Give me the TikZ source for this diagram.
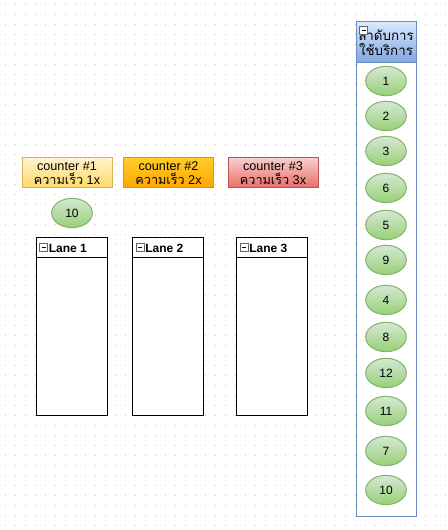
\documentclass[tikz,border=0pt]{standalone}
\usepackage{fontspec}
\setmainfont{Liberation Sans}
\newfontfamily\thaifont[Script=Thai]{Loma}
\usepackage{xcolor}
\usetikzlibrary{positioning,calc,shapes.geometric}

\definecolor{gridgray}{HTML}{C8C8C8}
\definecolor{itemline}{HTML}{82B366}
\definecolor{itemtop}{HTML}{D5E8D4}
\definecolor{itembot}{HTML}{97D077}
\definecolor{yelline}{HTML}{D6B656}
\definecolor{yeltop}{HTML}{FFF2CC}
\definecolor{yelbot}{HTML}{FFD966}
\definecolor{orgline}{HTML}{D79B00}
\definecolor{orgtop}{HTML}{FFCD28}
\definecolor{orgbot}{HTML}{FFA500}
\definecolor{redline}{HTML}{B85450}
\definecolor{redtop}{HTML}{F8CECC}
\definecolor{redbot}{HTML}{EA6B66}
\definecolor{bluline}{HTML}{6C8EBF}
\definecolor{blutop}{HTML}{DAE8FC}
\definecolor{blubot}{HTML}{7EA6E0}

\tikzset{
  counterbox/.style={rectangle, line width=0.75pt, minimum width=67.5pt,
    minimum height=22.5pt, inner sep=1pt, align=center,
    font=\fontsize{9.5}{10.5}\selectfont},
  queueitem/.style={ellipse, draw=itemline, line width=0.75pt,
    top color=itemtop, bottom color=itembot, minimum width=30.5pt,
    minimum height=22pt, inner sep=0pt, font=\fontsize{9}{10}\selectfont},
  lanebox/.style={rectangle, draw=black, line width=0.75pt, fill=white,
    minimum width=53.25pt, minimum height=132.75pt, inner sep=0pt},
  lanetitle/.style={anchor=west, inner sep=0pt, font=\fontsize{9}{10}\selectfont\bfseries},
  foldicon/.style={draw=gray!80!black, line width=0.4pt, fill=white}
}

\begin{document}
\begin{tikzpicture}[x=0.75pt, y=-0.75pt]
  \useasboundingbox (0,0) rectangle (448,530);
  % dotted grid
  \foreach \gy in {5,15,...,525}
    \draw[gridgray, line width=0.75pt, dash pattern=on 0.75pt off 6.75pt]
      (4.5,\gy) -- (448,\gy);

  % queue container
  \node[rectangle, draw=bluline, line width=0.75pt, fill=white,
    minimum width=45pt, minimum height=370.5pt, inner sep=0pt]
    (queue) at (386,269) {};
  \node[rectangle, draw=bluline, line width=0.75pt, top color=blutop,
    bottom color=blubot, minimum width=45pt, minimum height=30.75pt,
    inner sep=0pt, anchor=north, align=center,
    font=\fontsize{10}{11}\thaifont] (qhead) at (queue.north)
    {ลำดับการ\\ใช้บริการ};
  \draw[foldicon] ($(qhead.north west)+(4,5)$) rectangle ++(8,8);
  \draw[line width=0.4pt] ($(qhead.north west)+(6,9)$) -- ++(4,0);

  % queue items
  \foreach \lbl/\qy [count=\i] in {1/81,2/116,3/151,6/188,5/225,9/260,
      4/300,8/337,12/373,11/411,7/451,10/490}
    \node[queueitem] (q\i) at (386,\qy) {\lbl};

  % counters
  \node[counterbox, draw=yelline, top color=yeltop, bottom color=yelbot]
    (counter1) at (67,173) {counter \#1\\{\thaifont ความเร็ว} 1x};
  \node[counterbox, draw=orgline, top color=orgtop, bottom color=orgbot]
    (counter2) at (168.5,173) {counter \#2\\{\thaifont ความเร็ว} 2x};
  \node[counterbox, draw=redline, top color=redtop, bottom color=redbot]
    (counter3) at (273,173) {counter \#3\\{\thaifont ความเร็ว} 3x};
  \node[queueitem] (serving1) at (72,213) {10};

  % lanes
  \foreach \n/\lx in {1/71.5, 2/168, 3/272} {
    \node[lanebox] (lane\n) at (\lx,326.5) {};
    \draw[line width=0.75pt] ($(lane\n.north west)+(0,20.5)$)
      -- ($(lane\n.north east)+(0,20.5)$);
    \draw[foldicon] ($(lane\n.north west)+(4,6)$) rectangle ++(8,8);
    \draw[line width=0.4pt] ($(lane\n.north west)+(6,10)$) -- ++(4,0);
    \node[lanetitle] (title\n) at ($(lane\n.north west)+(13,10.5)$) {Lane \n};
  }
\end{tikzpicture}
\end{document}
